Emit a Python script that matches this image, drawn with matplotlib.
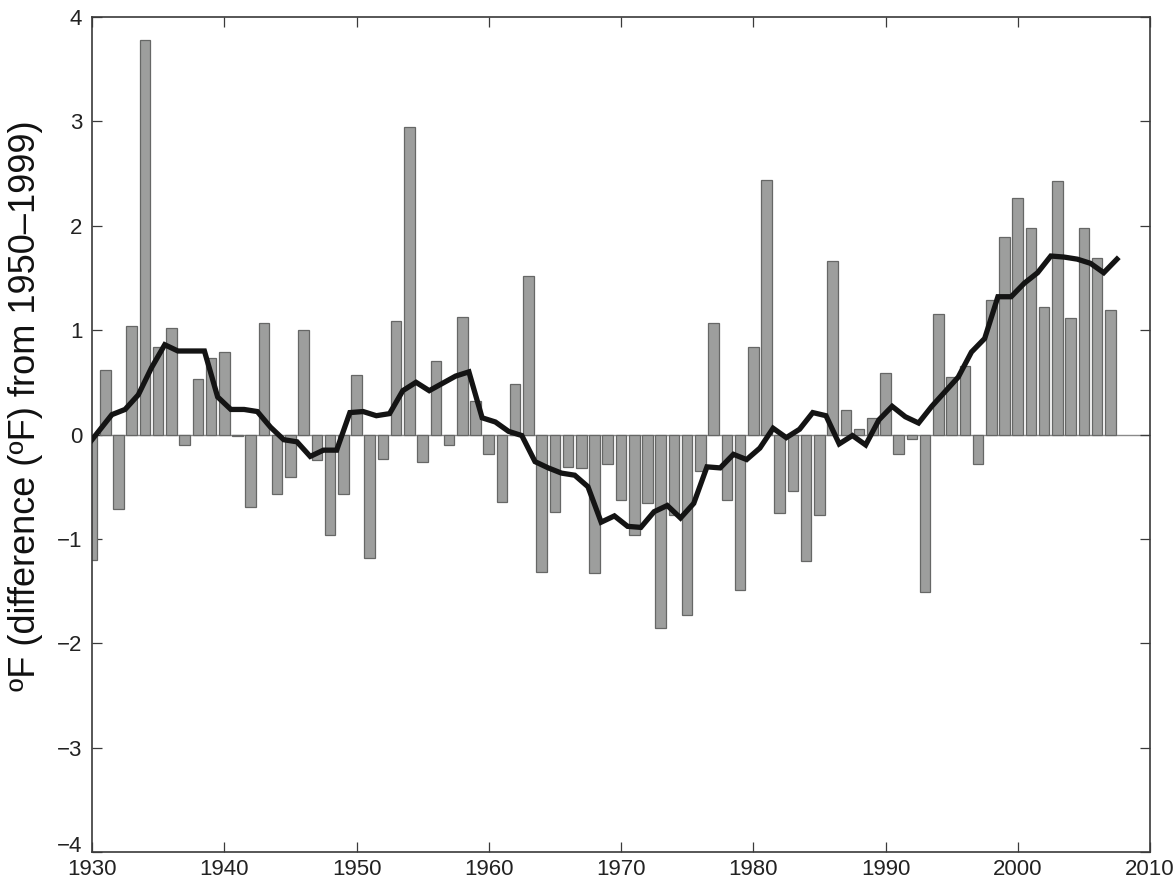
import numpy as np
import matplotlib
matplotlib.use("Agg")
import matplotlib.pyplot as plt
from matplotlib.transforms import ScaledTranslation

# yearly anomalies, deg F relative to 1950-1999
years = np.arange(1930, 2008)
anomaly = [
    -1.20, 0.62, -0.71, 1.04, 3.78, 0.84, 1.02, -0.10, 0.53, 0.73,
    0.79, -0.01, -0.69, 1.07, -0.57, -0.41, 1.00, -0.24, -0.96, -0.57,
    0.57, -1.18, -0.23, 1.09, 2.95, -0.26, 0.70, -0.10, 1.13, 0.32,
    -0.19, -0.65, 0.48, 1.52, -1.32, -0.74, -0.31, -0.32, -1.33, -0.28,
    -0.63, -0.96, -0.66, -1.85, -0.77, -1.73, -0.35, 1.07, -0.63, -1.49,
    0.84, 2.44, -0.75, -0.54, -1.21, -0.77, 1.66, 0.23, 0.05, 0.16,
    0.59, -0.19, -0.04, -1.51, 1.15, 0.55, 0.66, -0.28, 1.29, 1.89,
    2.27, 1.98, 1.22, 2.43, 1.12, 1.98, 1.69, 1.19,
]

# smoothed curve, plotted at mid-year
smooth_years = np.arange(1929.5, 2008.0, 1.0)
smooth = [
    -0.13, 0.03, 0.19, 0.24, 0.38, 0.64, 0.86, 0.80, 0.80, 0.80,
    0.36, 0.24, 0.24, 0.22, 0.07, -0.05, -0.07, -0.21, -0.15, -0.15,
    0.21, 0.22, 0.18, 0.20, 0.42, 0.50, 0.42, 0.49, 0.56, 0.60,
    0.16, 0.12, 0.03, -0.01, -0.26, -0.32, -0.37, -0.39, -0.50, -0.84,
    -0.78, -0.88, -0.89, -0.74, -0.68, -0.80, -0.66, -0.31, -0.32, -0.19,
    -0.24, -0.13, 0.06, -0.03, 0.05, 0.21, 0.18, -0.09, -0.01, -0.10,
    0.14, 0.27, 0.17, 0.11, 0.27, 0.41, 0.55, 0.79, 0.92, 1.32,
    1.32, 1.45, 1.55, 1.71, 1.70, 1.68, 1.64, 1.55, 1.68,
]

plt.rcParams["font.family"] = ["Liberation Sans", "DejaVu Sans"]

fig = plt.figure(figsize=(11.76, 8.85), dpi=100)
ax = fig.add_axes([92 / 1176, 33 / 885, 1058 / 1176, 835 / 885])

ax.axhline(0, color="#8a8a8a", lw=1.0, zorder=1)
ax.bar(years, anomaly, width=0.8, color="#9d9e9d", edgecolor="#666766",
       linewidth=0.9, zorder=2)
ax.plot(smooth_years, smooth, color="#141414", lw=3.8, zorder=3,
        solid_joinstyle="miter")

ax.set_xlim(1930, 2010)
ax.set_ylim(-4, 4)
ax.set_xticks(np.arange(1930, 2011, 10))
ax.set_yticks(np.arange(-4, 5, 1))
ax.set_yticklabels(["\u22124", "\u22123", "\u22122", "\u22121", "0", "1", "2", "3", "4"])

for side in ax.spines.values():
    side.set_color("#3a3a3a")
    side.set_linewidth(1.2)

ax.tick_params(direction="in", length=7, width=0.9, colors="#3a3a3a",
               labelcolor="#222222", labelsize=16, top=True, right=True)
ax.tick_params(axis="y", pad=7)
ax.tick_params(axis="x", pad=5)

# lift the bottom y label a little so it clears 1930, like the original
lab = ax.get_yticklabels()[0]
lab.set_transform(lab.get_transform()
                  + ScaledTranslation(0, 6 / 72, fig.dpi_scale_trans))

ax.set_ylabel("\u00baF (difference (\u00baF) from 1950\u20131999)",
              fontsize=26, color="#111111")
ax.yaxis.set_label_coords(-0.046, 0.535)

fig.savefig("out.png", dpi=100)
